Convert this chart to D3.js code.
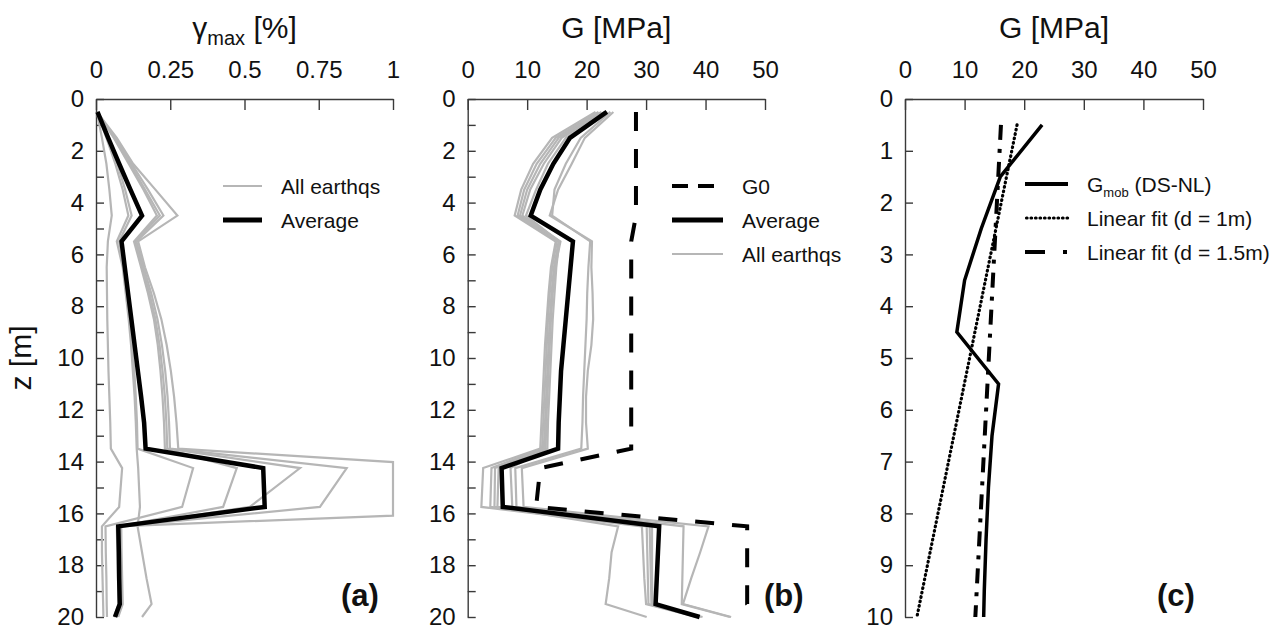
<!DOCTYPE html>
<html>
<head>
<meta charset="utf-8">
<script src="https://cdn.jsdelivr.net/npm/d3@7"></script>
<style>
  body { margin: 0; background: #fff; }
  svg { display: block; font-family: Arial, "Liberation Sans", sans-serif; }
</style>
</head>
<body>
<svg id="chart" width="1280" height="629"></svg>
<script>
// ---------- data ----------
// depth of each computed layer point [m]
const depths = [0.5, 1.5, 2.5, 3.5, 4.5, 5.5, 6.5, 7.5, 8.5, 9.5, 10.5, 11.5, 12.5, 13.5, 14.25, 15.75, 16.5, 17.5, 18.5, 19.5, 20];

// (a) maximum shear strain [%] for each earthquake record
const strainQuake1 = [0.003, 0.020, 0.035, 0.045, 0.053, 0.040, 0.036, 0.037, 0.038, 0.040, 0.042, 0.045, 0.048, 0.050, 0.088, 0.078, 0.020, 0.020, 0.022, 0.024, 0.025];
const strainQuake2 = [0.003, 0.035, 0.065, 0.090, 0.109, 0.070, 0.090, 0.100, 0.110, 0.118, 0.124, 0.130, 0.134, 0.137, 0.142, 0.148, 0.140, 0.155, 0.170, 0.187, 0.155];
const strainQuake3 = [0.003, 0.040, 0.072, 0.098, 0.120, 0.078, 0.093, 0.104, 0.114, 0.122, 0.129, 0.134, 0.138, 0.140, 0.327, 0.290, 0.032, 0.033, 0.035, 0.036, 0.037];
const strainQuake4 = [0.003, 0.060, 0.110, 0.160, 0.205, 0.128, 0.152, 0.175, 0.195, 0.208, 0.217, 0.224, 0.229, 0.232, 0.474, 0.428, 0.075, 0.076, 0.078, 0.080, 0.065];
const strainQuake5 = [0.003, 0.062, 0.115, 0.165, 0.215, 0.131, 0.155, 0.180, 0.200, 0.214, 0.224, 0.232, 0.237, 0.240, 0.687, 0.518, 0.080, 0.082, 0.084, 0.085, 0.070];
const strainQuake6 = [0.003, 0.065, 0.120, 0.175, 0.227, 0.136, 0.160, 0.186, 0.207, 0.222, 0.233, 0.241, 0.246, 0.249, 0.844, 0.754, 0.085, 0.086, 0.088, 0.090, 0.075];
const strainQuake7 = [0.003, 0.070, 0.125, 0.200, 0.274, 0.142, 0.165, 0.195, 0.220, 0.238, 0.252, 0.263, 0.271, 0.277, 1.320, 1.760, 0.070, 0.072, 0.074, 0.076, 0.060];
const strainAverage = [0.005, 0.041, 0.078, 0.116, 0.155, 0.086, 0.097, 0.108, 0.119, 0.130, 0.141, 0.152, 0.162, 0.167, 0.563, 0.568, 0.075, 0.077, 0.078, 0.080, 0.064];

// (b) secant shear modulus [MPa] for each earthquake record
const modulusQuake1 = [21.5, 14.2, 11.0, 9.0, 7.9, 14.8, 14.0, 13.6, 13.3, 13.0, 12.8, 12.6, 12.4, 12.2, 2.6, 2.3, 29.3, 29.5, 29.7, 30.0, 38.5];
const modulusQuake2 = [22.0, 14.8, 11.6, 9.5, 8.4, 15.0, 14.2, 13.8, 13.5, 13.3, 13.1, 12.9, 12.7, 12.5, 4.0, 3.8, 30.1, 30.2, 30.3, 30.4, 38.8];
const modulusQuake3 = [22.5, 15.3, 12.2, 10.0, 8.8, 15.3, 14.5, 14.1, 13.8, 13.6, 13.4, 13.2, 13.0, 12.8, 4.6, 4.5, 30.6, 30.7, 30.8, 30.9, 39.2];
const modulusQuake4 = [23.0, 15.8, 12.8, 10.5, 9.2, 15.6, 14.7, 14.3, 14.0, 13.8, 13.6, 13.4, 13.2, 13.1, 5.2, 5.0, 25.3, 24.2, 23.8, 23.2, 30.1];
const modulusQuake5 = [23.5, 16.5, 13.5, 11.5, 9.8, 15.4, 14.9, 14.6, 14.3, 14.1, 13.9, 13.7, 13.5, 13.4, 7.2, 7.5, 31.0, 31.0, 31.0, 31.1, 39.5];
const modulusQuake6 = [24.5, 19.7, 17.5, 15.2, 13.8, 20.9, 20.8, 21.0, 21.1, 20.8, 20.2, 19.9, 19.9, 20.2, 9.1, 9.4, 40.5, 39.1, 37.6, 36.2, 44.3];
const modulusQuake7 = [24.0, 19.0, 16.5, 14.6, 14.2, 20.6, 20.3, 20.1, 20.0, 19.8, 19.6, 19.4, 19.3, 19.1, 8.0, 8.2, 36.3, 36.2, 36.1, 36.0, 44.1];
const modulusAverage = [23.4, 17.2, 14.4, 12.2, 10.6, 17.7, 17.3, 16.9, 16.5, 16.1, 15.7, 15.5, 15.3, 15.2, 5.7, 5.9, 32.2, 32.0, 31.8, 31.6, 39.0];
const modulusG0 = [28.3, 28.3, 28.3, 28.3, 28.3, 27.5, 27.5, 27.5, 27.5, 27.5, 27.5, 27.5, 27.5, 27.5, 12.2, 11.5, 47.0, 47.0, 47.0, 47.0, 49.0];

// (c) mobilised modulus in the top 10 m and its linear fits [MPa]
const depthsTop = [0.5, 1.5, 2.5, 3.5, 4.5, 5.5, 6.5, 7.5, 8.5, 9.5, 10];
const modulusMob = [23.0, 16.0, 12.8, 10.0, 8.7, 15.7, 14.6, 14.0, 13.6, 13.3, 13.2];
const fitDepths = [0.5, 10];
const fitD1 = [18.8, 2.0];
const fitD15 = [16.1, 11.8];

// axis ticks
const strainTicks = [0, 0.25, 0.5, 0.75, 1];
const strainTickLabels = ["0", "0.25", "0.5", "0.75", "1"];
const modulusTicks = [0, 10, 20, 30, 40, 50];
const depthTicks20 = d3.range(0, 21, 1);
const depthTicks10 = d3.range(0, 11, 1);

// ---------- drawing ----------
const svg = d3.select("#chart");
const TOP = 99, BOTTOM = 617;
const GREY = "#b6b6b6";

const panels = {
  a: { left: 96, right: 393, xDomain: [0, 1], zMax: 20 },
  b: { left: 467.7, right: 765, xDomain: [0, 50], zMax: 20 },
  c: { left: 905, right: 1203, xDomain: [0, 50], zMax: 10 }
};
Object.values(panels).forEach(p => {
  p.x = d3.scaleLinear().domain(p.xDomain).range([p.left, p.right]);
  p.y = d3.scaleLinear().domain([0, p.zMax]).range([TOP, BOTTOM]);
});

// keep a profile inside the horizontal axis range: segments leaving the
// range are cut where they cross it and run along the edge instead
function bounded(zs, vs, lo, hi) {
  const out = [];
  for (let i = 0; i < vs.length; i++) {
    if (i > 0) {
      const pv = vs[i - 1], pz = zs[i - 1], v = vs[i], z = zs[i];
      const cuts = [];
      [lo, hi].forEach(b => {
        if ((pv - b) * (v - b) < 0) {
          const t = (b - pv) / (v - pv);
          cuts.push([t, b, pz + t * (z - pz)]);
        }
      });
      cuts.sort((m, n) => m[0] - n[0]).forEach(c => out.push([c[1], c[2]]));
    }
    out.push([Math.max(lo, Math.min(hi, vs[i])), zs[i]]);
  }
  return out;
}

function profile(p, zs, vs) {
  const line = d3.line().x(d => p.x(d[0])).y(d => p.y(d[1]));
  return line(bounded(zs, vs, p.xDomain[0], p.xDomain[1]));
}

function drawAxes(p, xTicks, xLabels, zTicks, zLabelEvery) {
  const gx = svg.append("g").attr("transform", `translate(0,${TOP})`)
    .call(d3.axisTop(p.x).tickValues(xTicks)
      .tickFormat((d, i) => xLabels ? xLabels[i] : d3.format("d")(d))
      .tickSize(-11).tickSizeOuter(0).tickPadding(21));
  const gy = svg.append("g").attr("transform", `translate(${p.left},0)`)
    .call(d3.axisLeft(p.y).tickValues(zTicks)
      .tickFormat(d => (d % zLabelEvery === 0 ? d : ""))
      .tickSize(-8).tickSizeOuter(0).tickPadding(12));
  [gx, gy].forEach(g => {
    g.select(".domain").attr("stroke", "#3a3a3a").attr("stroke-width", 1.4);
    g.selectAll(".tick line").attr("stroke", "#3a3a3a").attr("stroke-width", 1.4);
    g.selectAll(".tick text").attr("fill", "#111").style("font-size", "24px")
      .style("font-family", "Arial, 'Liberation Sans', sans-serif");
  });
}

function path(d, stroke, width, dash, cap) {
  svg.append("path").attr("d", d).attr("fill", "none")
    .attr("stroke", stroke).attr("stroke-width", width)
    .attr("stroke-linejoin", "miter")
    .attr("stroke-linecap", cap || "butt")
    .attr("stroke-dasharray", dash || null);
}

function legendRow(x1, x2, y, text, stroke, width, dash, sub, cap) {
  svg.append("line").attr("x1", x1).attr("x2", x2).attr("y1", y).attr("y2", y)
    .attr("stroke", stroke).attr("stroke-width", width)
    .attr("stroke-linecap", cap || "butt")
    .attr("stroke-dasharray", dash || null);
  const t = svg.append("text").attr("x", x2 + 19).attr("y", y + 7.5)
    .style("font-size", "21px").attr("fill", "#111");
  if (sub) {
    t.append("tspan").text(sub[0]);
    t.append("tspan").text(sub[1]).style("font-size", "13px").attr("dy", 5);
    t.append("tspan").text(sub[2]).attr("dy", -5);
  } else {
    t.text(text);
  }
}

function title(cx, parts) {
  const t = svg.append("text").attr("x", cx).attr("y", 38)
    .attr("text-anchor", "middle").style("font-size", "30px").attr("fill", "#111");
  parts.forEach(pt => {
    const s = t.append("tspan").text(pt.text);
    if (pt.size) s.style("font-size", pt.size + "px");
    if (pt.dy) s.attr("dy", pt.dy);
  });
}

function panelTag(x, text) {
  svg.append("text").attr("x", x).attr("y", 606)
    .style("font-size", "31px").style("font-weight", "bold").attr("fill", "#111").text(text);
}

// ----- panel (a): shear strain -----
const pa = panels.a;
drawAxes(pa, strainTicks, strainTickLabels, depthTicks20, 2);
[strainQuake1, strainQuake2, strainQuake3, strainQuake4, strainQuake5, strainQuake6, strainQuake7]
  .forEach(s => path(profile(pa, depths, s), GREY, 2.2));
path(profile(pa, depths, strainAverage), "#000", 4.5);
title((pa.left + pa.right) / 2, [
  { text: "γ" }, { text: "max", size: 20, dy: 7 }, { text: " [%]", dy: -7 }
]);
svg.append("text").attr("transform", "translate(31,358) rotate(-90)")
  .attr("text-anchor", "middle").style("font-size", "30px").attr("fill", "#111").text("z [m]");
legendRow(223, 262, 186, "All earthqs", GREY, 2.2);
legendRow(223, 262, 220, "Average", "#000", 5);
panelTag(341, "(a)");

// ----- panel (b): shear modulus -----
const pb = panels.b;
drawAxes(pb, modulusTicks, null, depthTicks20, 2);
[modulusQuake1, modulusQuake2, modulusQuake3, modulusQuake4, modulusQuake5, modulusQuake6, modulusQuake7]
  .forEach(s => path(profile(pb, depths, s), GREY, 2.2));
path(profile(pb, depths, modulusAverage), "#000", 4.5);
path(profile(pb, depths, modulusG0), "#000", 4, "19,18");
title((pb.left + pb.right) / 2, [{ text: "G [MPa]" }]);
legendRow(672, 723, 186, "G0", "#000", 4, "16,10");
legendRow(672, 723, 220, "Average", "#000", 5);
legendRow(672, 723, 254, "All earthqs", GREY, 2.2);
panelTag(764, "(b)");

// ----- panel (c): mobilised modulus, top 10 m -----
const pc = panels.c;
drawAxes(pc, modulusTicks, null, depthTicks10, 1);
path(profile(pc, fitDepths, fitD15), "#000", 4, "15,9,4,9");
path(profile(pc, fitDepths, fitD1), "#000", 3.2, "0.6,3.9", "round");
path(profile(pc, depthsTop, modulusMob), "#000", 3.5);
title((pc.left + pc.right) / 2, [{ text: "G [MPa]" }]);
legendRow(1025, 1068, 184, "", "#000", 4, null, ["G", "mob", " (DS-NL)"]);
legendRow(1026.5, 1068, 218, "Linear fit (d = 1m)", "#000", 3.2, "0.6,3.9", null, "round");
legendRow(1025, 1068, 252, "Linear fit (d = 1.5m)", "#000", 4, "20,18,4,8");
panelTag(1157, "(c)");
</script>
</body>
</html>
